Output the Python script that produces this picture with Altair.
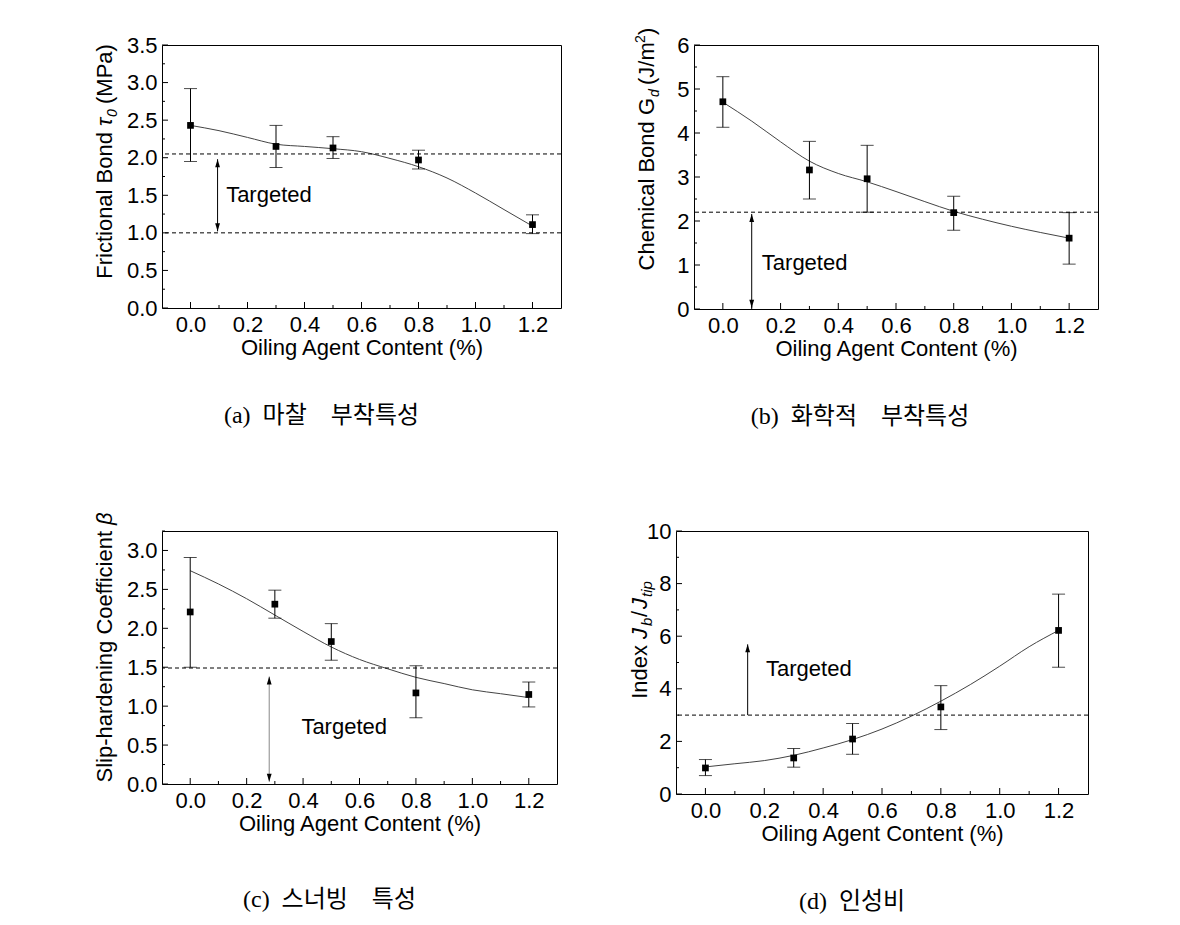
import altair as alt
import pandas as pd

FONT = "Liberation Sans"
CAPFONT = "Liberation Serif, Noto Sans CJK KR"
SP = "\u2002"

# ---------------- data ----------------
x_content = [0.0, 0.3, 0.5, 0.8, 1.2]
fit_x = [0.0, 0.1, 0.2, 0.3, 0.4, 0.5, 0.6, 0.7, 0.8, 0.9, 1.0, 1.1, 1.2]

a_mean = [2.43, 2.15, 2.13, 1.97, 1.11]
a_lo = [1.95, 1.87, 1.99, 1.85, 0.99]
a_hi = [2.92, 2.43, 2.28, 2.10, 1.24]
a_fit = [2.43, 2.36, 2.27, 2.18, 2.15, 2.12, 2.08, 1.99, 1.88, 1.73, 1.53, 1.31, 1.09]

b_mean = [4.71, 3.16, 2.96, 2.19, 1.61]
b_lo = [4.13, 2.50, 2.20, 1.79, 1.02]
b_hi = [5.28, 3.81, 3.72, 2.56, 2.19]
b_fit = [4.70, 4.27, 3.80, 3.36, 3.08, 2.89, 2.67, 2.44, 2.22, 2.04, 1.88, 1.74, 1.61]

c_mean = [2.21, 2.31, 1.83, 1.17, 1.15]
c_lo = [1.50, 2.13, 1.59, 0.85, 0.99]
c_hi = [2.91, 2.49, 2.06, 1.52, 1.31]
c_fit = [2.74, 2.57, 2.38, 2.17, 1.96, 1.76, 1.60, 1.48, 1.37, 1.29, 1.21, 1.16, 1.11]

d_mean = [0.99, 1.37, 2.09, 3.31, 6.22]
d_lo = [0.70, 1.02, 1.51, 2.45, 4.82]
d_hi = [1.31, 1.73, 2.68, 4.12, 7.60]
d_fit = [1.03, 1.15, 1.27, 1.47, 1.75, 2.07, 2.47, 2.96, 3.53, 4.16, 4.86, 5.60, 6.22]

x_major = [0.0, 0.2, 0.4, 0.6, 0.8, 1.0, 1.2]
x_minor = [0.1, 0.3, 0.5, 0.7, 0.9, 1.1]
x_label = "Oiling Agent Content (%)"
target_label = "Targeted"

captions = ["(a)" + SP + "마찰" + SP + SP + "부착특성",
            "(b)" + SP + "화학적" + SP + SP + "부착특성",
            "(c)" + SP + "스너빙" + SP + SP + "특성",
            "(d)" + SP + "인성비"]


def panel(mean, lo, hi, fit, ymax, ymajor, yminor, yfmt, dashed, arrow, label_pos,
          title_pieces, caption, cap_dx, cap_offset, w, h, arrow_color="black"):
    xs = alt.Scale(domain=[-0.1, 1.3], nice=False, zero=False)
    ys = alt.Scale(domain=[0, ymax], nice=False, zero=True)
    xa = alt.Axis(
        values=x_major, format=".1f", ticks=False, domain=False, grid=False,
        labelFont=FONT, labelFontSize=22, labelPadding=6, labelColor="black",
        labelFlush=False,
        title=x_label, titleFont=FONT, titleFontSize=22, titleFontWeight="normal",
        titleColor="black", titlePadding=2)
    ya = alt.Axis(
        values=ymajor, format=yfmt, ticks=False, domain=False, grid=False,
        labelFont=FONT, labelFontSize=22, labelPadding=5, labelColor="black",
        labelFlush=False, title=None)

    def X(f):
        return alt.X(f, scale=xs, axis=xa, title=x_label)

    def Y(f):
        return alt.Y(f, scale=ys, axis=ya, title=None)

    pts = pd.DataFrame({"x": x_content, "y": mean, "lo": lo, "hi": hi})
    fitdf = pd.DataFrame({"x": fit_x, "y": fit})

    layers = []
    layers.append(alt.Chart(fitdf).mark_line(color="#444444", strokeWidth=1, interpolate="monotone")
                  .encode(x=X("x:Q"), y=Y("y:Q")))
    layers.append(alt.Chart(pd.DataFrame({"v": dashed})).mark_rule(
        color="black", strokeWidth=1, strokeDash=[4, 3])
        .encode(y=Y("v:Q")))
    layers.append(alt.Chart(pts).mark_rule(color="black", strokeWidth=1)
                  .encode(x=X("x:Q"), y=Y("lo:Q"), y2="hi:Q"))
    for f in ["lo", "hi"]:
        layers.append(alt.Chart(pts).mark_tick(color="black", orient="horizontal",
                                               size=13, thickness=1)
                      .encode(x=X("x:Q"), y=Y(f + ":Q")))
    layers.append(alt.Chart(pts).mark_square(color="black", size=45, opacity=1)
                  .encode(x=X("x:Q"), y=Y("y:Q")))
    # arrow: y0 = bottom end, y1 = top end
    ax, ay0, ay1, double = arrow
    adf = pd.DataFrame({"x": [ax], "y0": [ay0], "y1": [ay1]})
    layers.append(alt.Chart(adf).mark_rule(color=arrow_color, strokeWidth=1)
                  .encode(x=X("x:Q"), y=Y("y0:Q"), y2="y1:Q"))
    layers.append(alt.Chart(adf).mark_point(shape="M0,0L0.3,1L-0.3,1Z", filled=True,
                                            color="black", size=256, opacity=1)
                  .encode(x=X("x:Q"), y=Y("y1:Q")))
    if double:
        layers.append(alt.Chart(adf).mark_point(shape="M0,0L0.3,-1L-0.3,-1Z", filled=True,
                                                color="black", size=256, opacity=1)
                      .encode(x=X("x:Q"), y=Y("y0:Q")))
    tdf = pd.DataFrame({"x": [label_pos[0]], "y": [label_pos[1]], "t": [target_label]})
    layers.append(alt.Chart(tdf).mark_text(font=FONT, fontSize=22, align="left",
                                           baseline="middle", color="black")
                  .encode(x=X("x:Q"), y=Y("y:Q"), text="t:N"))
    # inner ticks
    layers.append(alt.Chart(pd.DataFrame({"x": x_major})).mark_rule(color="black")
                  .encode(x=X("x:Q"), y=alt.value(h), y2=alt.value(h - 6)))
    layers.append(alt.Chart(pd.DataFrame({"x": x_minor})).mark_rule(color="black")
                  .encode(x=X("x:Q"), y=alt.value(h), y2=alt.value(h - 3)))
    layers.append(alt.Chart(pd.DataFrame({"y": ymajor})).mark_rule(color="black")
                  .encode(y=Y("y:Q"), x=alt.value(0), x2=alt.value(6)))
    layers.append(alt.Chart(pd.DataFrame({"y": yminor})).mark_rule(color="black")
                  .encode(y=Y("y:Q"), x=alt.value(0), x2=alt.value(3)))
    # rotated y-axis title pieces
    for (txt, px, py, size, style, align) in title_pieces:
        layers.append(alt.Chart(pd.DataFrame({"t": [txt]})).mark_text(
            font=FONT, fontSize=size, fontStyle=style, angle=270, align=align,
            baseline="alphabetic", color="black")
            .encode(x=alt.value(px), y=alt.value(py), text="t:N"))

    return alt.layer(*layers).properties(
        width=w, height=h,
        title=alt.TitleParams(caption, orient="bottom", anchor="middle", frame="group",
                              font=CAPFONT, fontSize=24, fontWeight="normal",
                              color="black", dx=cap_dx, offset=cap_offset))


pa = panel(a_mean, a_lo, a_hi, a_fit, 3.5,
           [0.0, 0.5, 1.0, 1.5, 2.0, 2.5, 3.0, 3.5],
           [0.25, 0.75, 1.25, 1.75, 2.25, 2.75, 3.25], ".1f",
           [2.05, 1.0], (0.095, 1.02, 1.98, True), (0.125, 1.5),
           [("Frictional Bond", -50, 87, 22, "normal", "right"),
            ("τ", -50, 81, 22, "italic", "left"),
            ("0", -45, 72, 14, "italic", "left"),
            ("(MPa)", -50, 59, 22, "normal", "left")],
           captions[0], -40, 46, 399, 263)

pb = panel(b_mean, b_lo, b_hi, b_fit, 6,
           [0, 1, 2, 3, 4, 5, 6],
           [0.5, 1.5, 2.5, 3.5, 4.5, 5.5], "d",
           [2.2], (0.10, 0.03, 2.16, True), (0.135, 1.05),
           [("Chemical Bond G", -40, 53, 22, "normal", "right"),
            ("d", -35, 52, 14, "italic", "left"),
            ("(J/m", -40, 40, 22, "normal", "left"),
            ("2", -49, -2, 14, "normal", "left"),
            (")", -40, -10, 22, "normal", "left")],
           captions[1], -36, 46, 404, 264)

pc = panel(c_mean, c_lo, c_hi, c_fit, 3.25,
           [0.0, 0.5, 1.0, 1.5, 2.0, 2.5, 3.0],
           [0.25, 0.75, 1.25, 1.75, 2.25, 2.75, 3.25], ".1f",
           [1.49], (0.28, 0.03, 1.38, True), (0.394, 0.727),
           [("Slip-hardening Coefficient", -50, 0, 22, "normal", "right"),
            ("β", -50, -6, 22, "italic", "left")],
           captions[2], -30, 54, 395, 253, arrow_color="#888888")

pd_ = panel(d_mean, d_lo, d_hi, d_fit, 10,
            [0, 2, 4, 6, 8, 10],
            [1, 3, 5, 7, 9], "d",
            [3.0], (0.1435, 3.0, 5.69, False), (0.206, 4.77),
            [("Index", -29, 114, 22, "normal", "right"),
             ("J", -29, 108, 22, "italic", "left"),
             ("b", -24, 95, 15, "italic", "left"),
             ("/", -29, 86, 22, "normal", "left"),
             ("J", -29, 78, 22, "italic", "left"),
             ("tip", -24, 66, 15, "italic", "left")],
            captions[3], -30, 46, 412, 263)

top = alt.hconcat(pa, pb, spacing=71)
bottom = alt.hconcat(pc, pd_, spacing=70)
chart = alt.vconcat(top, bottom, spacing=81).properties(
    padding={"left": 85, "top": 19, "right": 0, "bottom": 0}
).configure(background="white").configure_view(stroke="black", strokeWidth=1)

chart.save("out.html", embed_options={"renderer": "svg", "actions": False})
